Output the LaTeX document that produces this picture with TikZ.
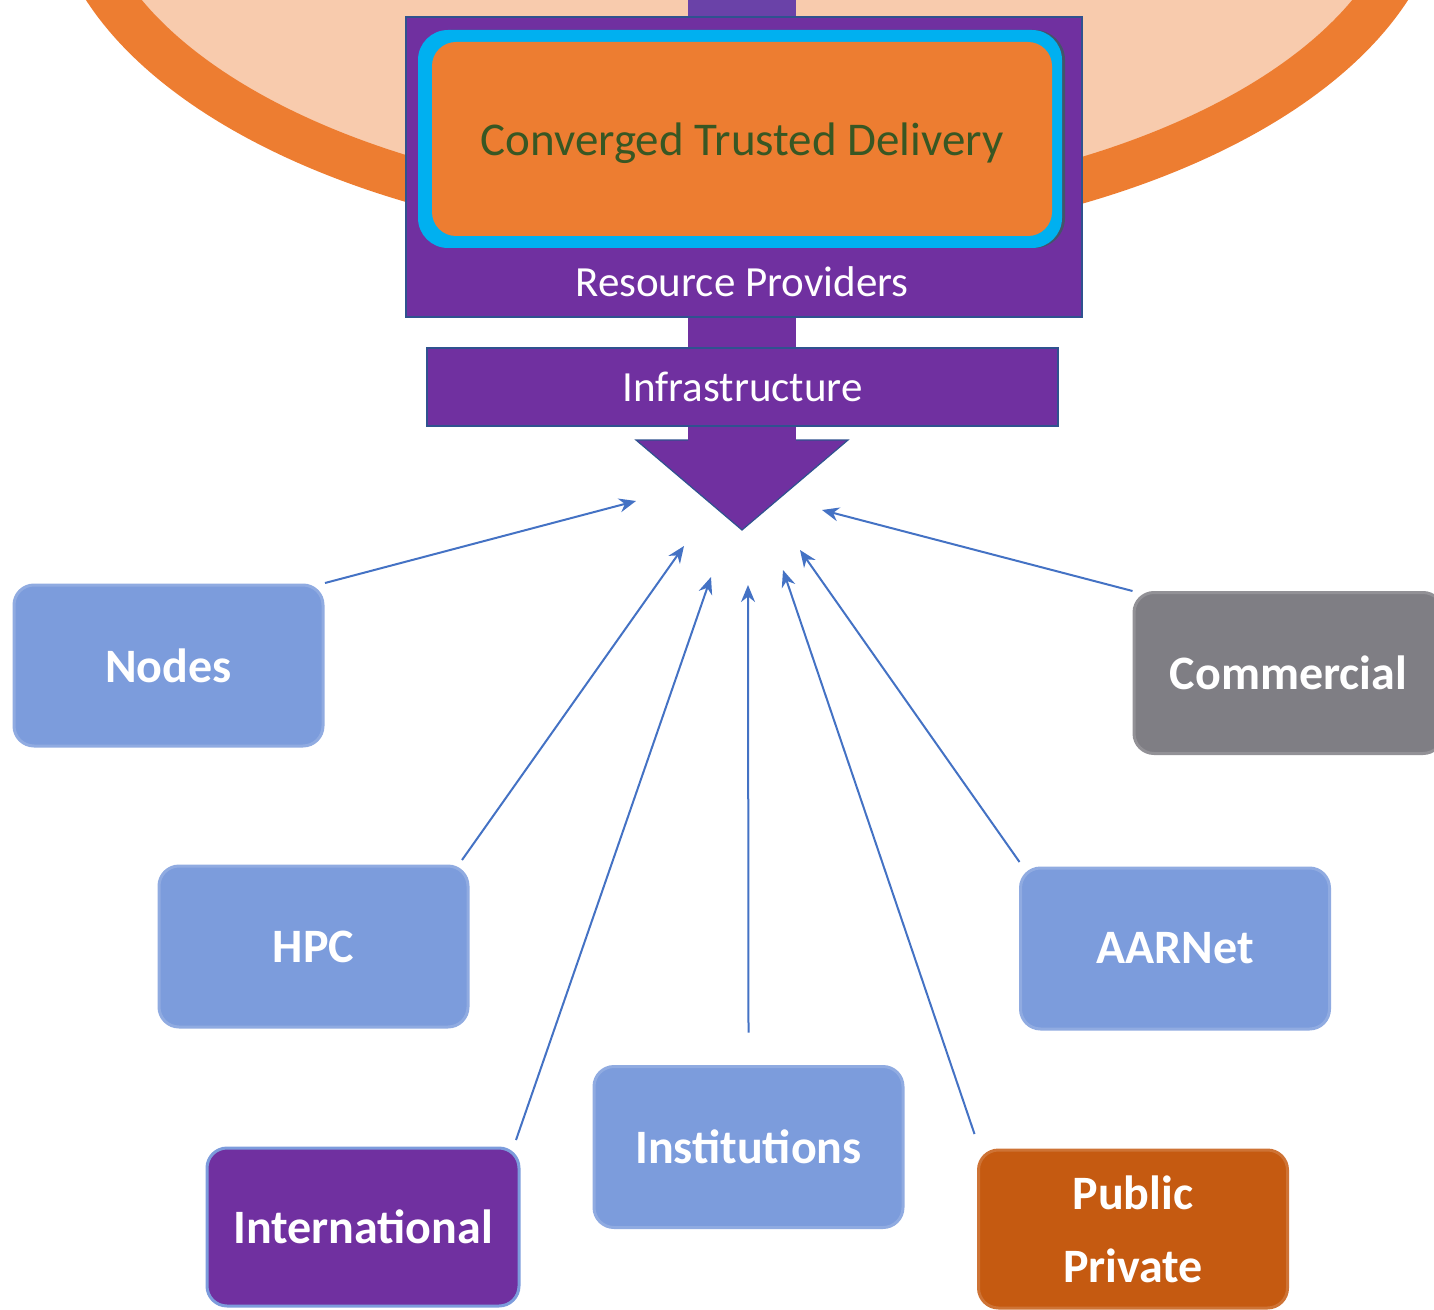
\documentclass[tikz,border=0pt]{standalone}
\usepackage{fontspec}
\setmainfont{Carlito}
\usetikzlibrary{arrows.meta}
\definecolor{ringor}{HTML}{ED7D31}
\definecolor{ringfill}{HTML}{F8CBAD}
\definecolor{purp}{HTML}{7030A0}
\definecolor{purptop}{HTML}{6A42A8}
\definecolor{cyanb}{HTML}{00B0F0}
\definecolor{dgreen}{HTML}{385723}
\definecolor{edgeblue}{HTML}{2F528F}
\definecolor{boxblue}{HTML}{7C9CDC}
\definecolor{boxgrey}{HTML}{7F7E84}
\definecolor{boxor}{HTML}{C55A11}
\definecolor{arrblue}{HTML}{4472C4}
\definecolor{shadowgrey}{HTML}{44546A}
\begin{document}
\begin{tikzpicture}[x=0.5pt,y=-0.5pt,
  srcbox/.style={rectangle, rounded corners=10pt, minimum width=154.5pt, minimum height=80.5pt, inner sep=0pt, text=white, font=\bfseries\fontsize{24}{36.5}\selectfont, align=center, fill=#1, draw=#1!85!white, line width=1.5pt},
  conn/.style={draw=arrblue, line width=1pt, -{Stealth[length=8.5pt,width=7pt]}},
  bandtext/.style={text=white, font=\fontsize{21.5}{26}\selectfont, inner sep=0pt}
  ]
\useasboundingbox (0,0) rectangle (1434,1310);
% ring
\draw[draw=ringor, fill=ringfill, line width=22.5pt] (747,-123) ellipse [x radius=338.5pt, y radius=174.5pt];
% shaft
\fill[purptop] (688,-5) rectangle (796,20);
\fill[purp] (688,20) rectangle (796,441);
% resource providers box
\node (rp) [rectangle, fill=purp, draw=edgeblue, line width=0.8pt, minimum width=338pt, minimum height=150pt, inner sep=0pt] at (744,167) {};
\node (cyshadow) [rectangle, rounded corners=15pt, fill=shadowgrey, minimum width=322pt, minimum height=109pt, inner sep=0pt] at (743,139) {};
\node (cy) [rectangle, rounded corners=15pt, fill=cyanb, minimum width=322pt, minimum height=109pt, inner sep=0pt] at (740,139) {};
\node (ctd) [rectangle, rounded corners=12pt, fill=ringor, minimum width=310pt, minimum height=97pt, inner sep=0pt] at (742,139) {};
\node (ctdtext) [text=dgreen, font=\fontsize{23.5}{28}\selectfont, inner sep=0pt] at (742,143) {Converged Trusted Delivery};
\node (rptext) [bandtext] at (742,282) {Resource Providers};
% infrastructure
\node (infra) [rectangle, fill=purp, draw=edgeblue, line width=0.8pt, minimum width=315.5pt, minimum height=39pt, inner sep=0pt, text=white, font=\fontsize{21.5}{26}\selectfont] at (742.5,387) {Infrastructure};
% arrowhead
\filldraw[fill=purp, draw=edgeblue, line width=0.6pt] (688,440) -- (636,440) -- (742,530) -- (848,440) -- (796,440);
\fill[purp] (689,427) rectangle (795,441);
% sources
\node (nodes) [srcbox=boxblue] at (168.5,665.5) {Nodes};
\node (comm) [srcbox=boxgrey] at (1288.5,673) {Commercial};
\node (hpc) [srcbox=boxblue] at (313.5,946.5) {HPC};
\node (aar) [srcbox=boxblue] at (1175,948.5) {AARNet};
\node (inst) [srcbox=boxblue] at (748.5,1147) {Institutions};
\node (intl) [srcbox=purp, draw=boxblue, minimum height=79pt, minimum width=156pt] at (363,1227) {International};
\node (pub) [srcbox=boxor, minimum height=79pt] at (1133,1229) {Public\\Private};
% targets
\coordinate (t1) at (636,501);
\coordinate (t2) at (684,546);
\coordinate (t3) at (711,577);
\coordinate (t4) at (748,585);
\coordinate (t5) at (783,570);
\coordinate (t6) at (800,550);
\coordinate (t7) at (822,510);
% connectors
\draw[conn] ([shift={(0.5,-0.5)}]nodes.north east) -- (t1);
\draw[conn] ([shift={(-7.5,-4.5)}]hpc.north east) -- (t2);
\draw[conn] ([shift={(-4.5,-6.5)}]intl.north east) -- (t3);
\draw[conn] ([shift={(0,-32.5)}]inst.north) -- (t4);
\draw[conn] ([shift={(-2.5,-14.5)}]pub.north west) -- (t5);
\draw[conn] ([shift={(0.5,-4.5)}]aar.north west) -- (t6);
\draw[conn] (comm.north west) -- (t7);
\end{tikzpicture}
\end{document}
